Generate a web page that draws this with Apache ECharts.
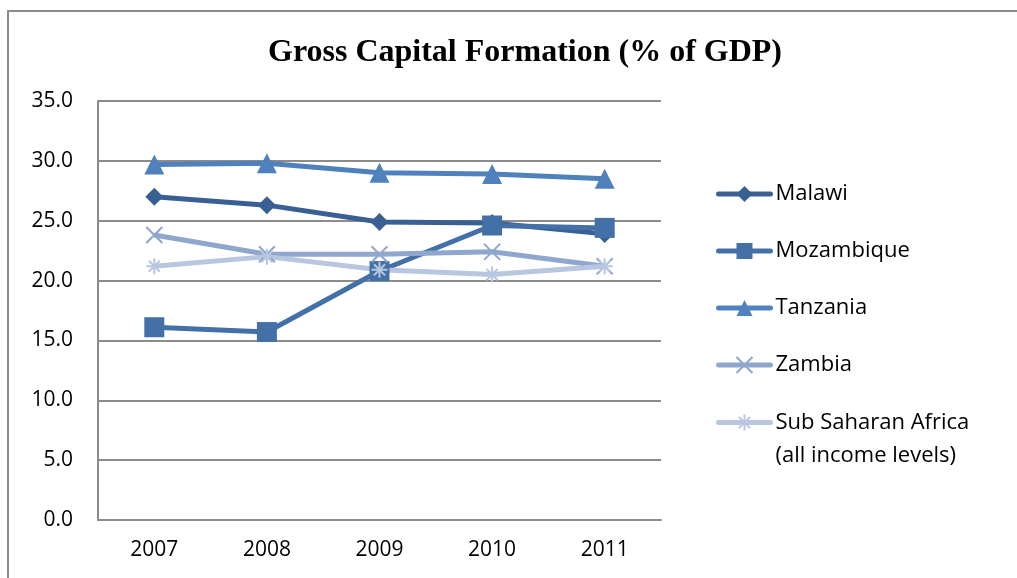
<!DOCTYPE html>
<html>
<head>
<meta charset="utf-8">
<script src="https://cdn.jsdelivr.net/npm/echarts@6/dist/echarts.min.js"></script>
<style>
html, body { margin: 0; padding: 0; background: #fff; }
#chart { width: 1017px; height: 578px; }
</style>
</head>
<body>
<div id="chart"></div>
<script>
var years = ['2007', '2008', '2009', '2010', '2011'];
var malawi = [27.0, 26.3, 24.9, 24.8, 23.9];
var mozambique = [16.1, 15.7, 20.8, 24.6, 24.4];
var tanzania = [29.7, 29.8, 29.0, 28.9, 28.5];
var zambia = [23.8, 22.2, 22.2, 22.4, 21.2];
var ssa = [21.2, 22.0, 20.9, 20.5, 21.2];

var xMark = 'path://M0,0L10,10M10,0L0,10';
var starMark = 'path://M5,0L5,10M0,5L10,5M1.5,1.5L8.5,8.5M8.5,1.5L1.5,8.5';

var myChart = echarts.init(document.getElementById('chart'));

function line(name, data, color, symbol, size, hollow) {
    return {
        name: name,
        type: 'line',
        data: data,
        symbol: symbol,
        symbolSize: size,
        lineStyle: { color: color, width: 5 },
        itemStyle: hollow ? { color: 'rgba(0,0,0,0)', borderColor: color, borderWidth: 2 } : { color: color },
        emphasis: { disabled: true },
        z: 2
    };
}

option = {
    animation: false,
    title: {
        text: 'Gross Capital Formation (% of GDP)',
        left: 520,
        top: 32,
        textAlign: 'center',
        textStyle: { fontFamily: 'Liberation Serif', fontWeight: 'bold', fontSize: 32, color: '#000' }
    },
    graphic: [{
        type: 'rect',
        shape: { x: 8, y: 11, width: 1100, height: 700 },
        style: { fill: 'none', stroke: '#8c8c8c', lineWidth: 2 },
        z: -1
    }],
    legend: [{
        orient: 'vertical',
        left: 716,
        top: 182,
        padding: 0,
        itemGap: 33,
        itemWidth: 52,
        itemHeight: 20,
        lineStyle: { width: 5, cap: 'round' },
        textStyle: { fontFamily: 'Open Sans', fontSize: 22, color: '#000', lineHeight: 24 },
        data: ['Malawi', 'Mozambique', 'Tanzania', 'Zambia']
    }, {
        orient: 'vertical',
        left: 716,
        top: 373,
        padding: 0,
        itemWidth: 52,
        itemHeight: 20,
        lineStyle: { width: 5, cap: 'round' },
        textStyle: { fontFamily: 'Open Sans', fontSize: 22, color: '#000', lineHeight: 33 },
        formatter: function (n) { return ' \nSub Saharan Africa\n(all income levels)'; },
        data: ['Sub Saharan Africa']
    }],
    grid: {
        left: 98,
        right: 356,
        top: 101,
        bottom: 58,
        containLabel: false
    },
    xAxis: {
        type: 'category',
        data: years,
        boundaryGap: true,
        axisLine: { lineStyle: { color: '#8c8c8c', width: 2 } },
        axisTick: { show: false },
        axisLabel: { fontFamily: 'Open Sans', fontSize: 21, color: '#000', margin: 20 }
    },
    yAxis: {
        type: 'value',
        min: 0,
        max: 35,
        interval: 5,
        axisLine: { show: true, lineStyle: { color: '#8c8c8c', width: 2 } },
        axisTick: { show: false },
        splitLine: { lineStyle: { color: '#8c8c8c', width: 2 } },
        axisLabel: {
            fontFamily: 'Open Sans', fontSize: 21, color: '#000', margin: 25,
            formatter: function (v) { return v.toFixed(1); }
        }
    },
    series: [
        line('Malawi', malawi, '#3a6093', 'diamond', 18, false),
        line('Mozambique', mozambique, '#4470a8', 'rect', 20, false),
        line('Tanzania', tanzania, '#4f81bd', 'triangle', 20, false),
        line('Zambia', zambia, '#8fa6cd', xMark, 16, true),
        line('Sub Saharan Africa', ssa, '#b8c6e0', starMark, 16, true)
    ]
};
myChart.setOption(option);
</script>
</body>
</html>
